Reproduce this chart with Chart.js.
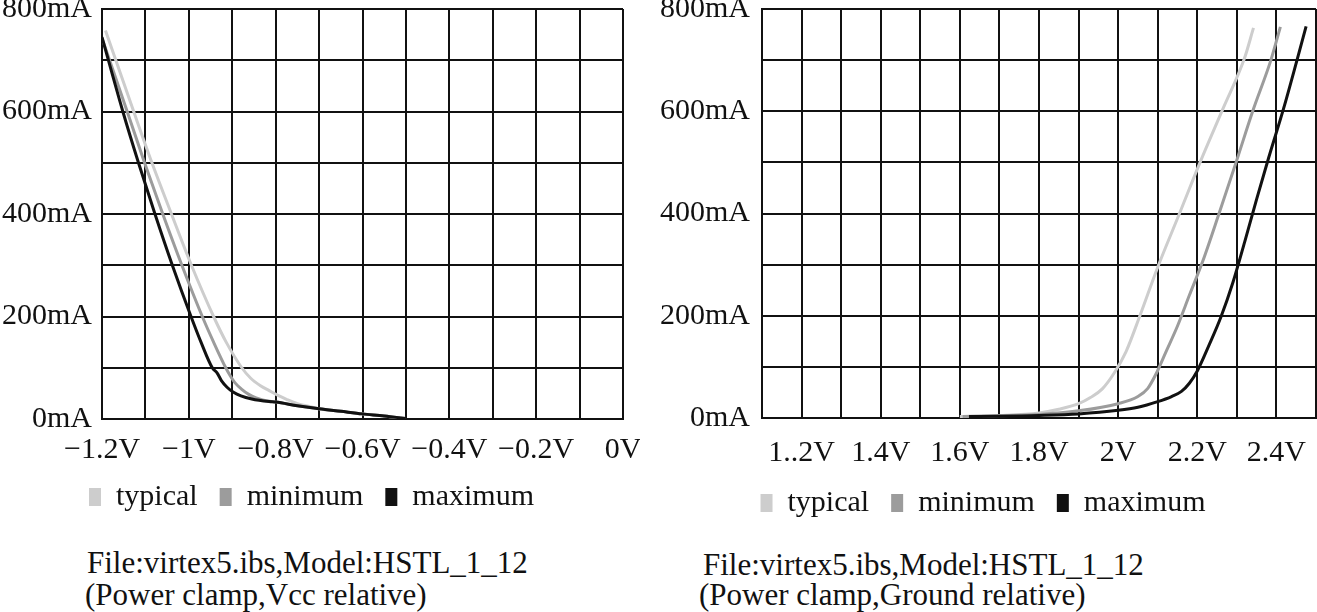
<!DOCTYPE html>
<html>
<head>
<meta charset="utf-8">
<script src="https://cdn.jsdelivr.net/npm/chart.js@4.4.1/dist/chart.umd.min.js"></script>
<style>
html, body { margin: 0; padding: 0; background: #ffffff; }
body { width: 1317px; height: 612px; position: relative; overflow: hidden; font-family: "Liberation Serif", "Times New Roman", serif; }
canvas { position: absolute; top: 0; }
#c1 { left: 0; }
#c2 { left: 650px; }
.cap { position: absolute; font: 31px/32px "Liberation Serif", "Times New Roman", serif; color: #111; white-space: pre; }
</style>
</head>
<body>
<canvas id="c1" width="640" height="522"></canvas>
<canvas id="c2" width="667" height="528"></canvas>
<div class="cap" id="cap1a" style="left:87px; top:547px;"></div>
<div class="cap" id="cap1b" style="left:85px; top:579px;"></div>
<div class="cap" id="cap2a" style="left:703px; top:549px;"></div>
<div class="cap" id="cap2b" style="left:699px; top:579px;"></div>
<script>
// ---------- tick labels ----------
const vccVoltTicks  = [-1.2, -1.0, -0.8, -0.6, -0.4, -0.2, 0];
const vccVoltLabels = ['\u22121.2V', '\u22121V', '\u22120.8V', '\u22120.6V', '\u22120.4V', '\u22120.2V', '0V'];
const gndVoltTicks  = [1.2, 1.4, 1.6, 1.8, 2.0, 2.2, 2.4];
const gndVoltLabels = ['1..2V', '1.4V', '1.6V', '1.8V', '2V', '2.2V', '2.4V'];
const currentTicks  = [0, 200, 400, 600, 800];
const currentLabels = ['0mA', '200mA', '400mA', '600mA', '800mA'];

const seriesNames = ['typical', 'minimum', 'maximum'];
const captionLeft  = ['File:virtex5.ibs,Model:HSTL_1_12', '(Power clamp,Vcc relative)'];
const captionRight = ['File:virtex5.ibs,Model:HSTL_1_12', '(Power clamp,Ground relative)'];

// ---------- Power clamp, Vcc relative (V, mA) ----------
const vccTypicalV = [-1.192, -1.127, -1.085, -1.04, -0.994, -0.943, -0.914, -0.878, -0.858, -0.835, -0.814, -0.792, -0.774, -0.75, -0.72, -0.7, -0.65, -0.6, -0.55, -0.5];
const vccTypicalI = [758, 600, 500, 400, 300, 200, 150, 100, 80, 65, 55, 45, 38, 30, 24, 20, 15, 10, 6, 1];
const vccMinimumV = [-1.198, -1.142, -1.102, -1.06, -1.016, -0.969, -0.943, -0.915, -0.905, -0.893, -0.878, -0.862, -0.845, -0.83, -0.8, -0.75, -0.7, -0.65, -0.6, -0.55, -0.5];
const vccMinimumI = [738, 600, 500, 400, 300, 200, 150, 100, 85, 70, 58, 48, 41, 37, 33, 26, 20, 15, 10, 6, 1];
const vccMaximumV = [-1.2, -1.152, -1.116, -1.078, -1.038, -0.995, -0.972, -0.946, -0.935, -0.925, -0.912, -0.897, -0.88, -0.855, -0.815, -0.8, -0.75, -0.7, -0.65, -0.6, -0.55, -0.5];
const vccMaximumI = [745, 600, 500, 400, 300, 200, 150, 100, 90, 75, 62, 52, 45, 39, 34, 33, 26, 20, 15, 10, 6, 1];

// ---------- Power clamp, Ground relative (V, mA) ----------
const gndTypicalV = [1.6, 1.7, 1.8, 1.85, 1.9, 1.93, 1.96, 1.99, 2.02, 2.055, 2.1, 2.154, 2.207, 2.265, 2.319, 2.342];
const gndTypicalI = [3, 5, 10, 17, 28, 40, 57, 88, 130, 200, 295, 398, 500, 605, 703, 763];
const gndMinimumV = [1.607, 1.7, 1.8, 1.9, 2.0, 2.05, 2.075, 2.095, 2.12, 2.15, 2.18, 2.213, 2.255, 2.298, 2.34, 2.386, 2.41];
const gndMinimumI = [3, 4.5, 7, 14, 28, 42, 58, 85, 128, 180, 240, 305, 400, 500, 600, 700, 765];
const gndMaximumV = [1.623, 1.7, 1.8, 1.9, 2.0, 2.05, 2.1, 2.135, 2.16, 2.18, 2.2, 2.23, 2.26, 2.29, 2.32, 2.35, 2.38, 2.418, 2.452, 2.475];
const gndMaximumI = [3, 3.5, 5, 8, 15, 21, 32, 42, 52, 68, 92, 143, 198, 265, 345, 428, 508, 605, 700, 766];

// ---------- styles ----------
const seriesColors = { typical: '#cdcdcd', minimum: '#9c9c9c', maximum: '#111111' };
const FONT = '"Liberation Serif", "Times New Roman", serif';
const INK = '#111111';

function zip(xs, ys) { return xs.map((x, i) => ({ x: x, y: ys[i] })); }
function labelFor(v, ticks, labels) {
  for (let i = 0; i < ticks.length; i++) if (Math.abs(v - ticks[i]) < 1e-6) return labels[i];
  return '';
}

function makePanel(id, c) {
  const series = {
    typical: zip(c.typV, c.typI),
    minimum: zip(c.minV, c.minI),
    maximum: zip(c.maxV, c.maxI)
  };
  // dataset 0 is painted last (on top): maximum on top; legend reversed to typical, minimum, maximum
  const order = seriesNames.slice().reverse();
  const datasets = order.map(name => ({
    label: name,
    data: series[name],
    borderColor: seriesColors[name],
    backgroundColor: seriesColors[name],
    borderWidth: 3,
    pointRadius: 0,
    fill: false,
    cubicInterpolationMode: 'monotone'
  }));
  return new Chart(document.getElementById(id), {
    type: 'line',
    data: { datasets: datasets },
    options: {
      responsive: false,
      animation: false,
      devicePixelRatio: 1,
      layout: { padding: { top: c.padTop, right: c.padRight, bottom: 0, left: 0 } },
      scales: {
        x: {
          type: 'linear', min: c.xMin, max: c.xMax,
          grid: { color: INK, lineWidth: 2, drawTicks: false },
          border: { color: INK, width: 2 },
          ticks: {
            stepSize: 0.1, autoSkip: false, maxRotation: 0, minRotation: 0,
            padding: c.xPad, color: INK, font: { family: FONT, size: 30 },
            callback: v => labelFor(v, c.xTicks, c.xLabels)
          },
          afterFit: s => { s.height = c.xHeight; s.paddingLeft = 0; s.paddingRight = 0; }
        },
        y: {
          type: 'linear', min: 0, max: 800,
          grid: { color: INK, lineWidth: 2, drawTicks: false },
          border: { color: INK, width: 2 },
          ticks: {
            stepSize: 100, padding: c.yPad, color: INK, font: { family: FONT, size: 30 },
            callback: v => labelFor(v, currentTicks, currentLabels)
          },
          afterFit: s => { s.width = c.yWidth; s.paddingTop = 0; s.paddingBottom = 0; }
        }
      },
      plugins: {
        legend: {
          position: 'bottom',
          reverse: true,
          labels: {
            boxWidth: 12, boxHeight: 18, padding: 22, color: INK,
            font: { family: FONT, size: 30 },
            generateLabels: chart => Chart.defaults.plugins.legend.labels.generateLabels(chart)
              .map(l => Object.assign(l, { lineWidth: 0 }))
          }
        },
        tooltip: { enabled: false }
      }
    }
  });
}

makePanel('c1', {
  typV: vccTypicalV, typI: vccTypicalI, minV: vccMinimumV, minI: vccMinimumI, maxV: vccMaximumV, maxI: vccMaximumI,
  xMin: -1.2, xMax: 0, xTicks: vccVoltTicks, xLabels: vccVoltLabels,
  padTop: 9, padRight: 17, xHeight: 41, xPad: 13, yWidth: 102, yPad: 10
});
makePanel('c2', {
  typV: gndTypicalV, typI: gndTypicalI, minV: gndMinimumV, minI: gndMinimumI, maxV: gndMaximumV, maxI: gndMaximumI,
  xMin: 1.1, xMax: 2.5, xTicks: gndVoltTicks, xLabels: gndVoltLabels,
  padTop: 9, padRight: 1, xHeight: 48, xPad: 17, yWidth: 112, yPad: 12
});

document.getElementById('cap1a').textContent = captionLeft[0];
document.getElementById('cap1b').textContent = captionLeft[1];
document.getElementById('cap2a').textContent = captionRight[0];
document.getElementById('cap2b').textContent = captionRight[1];
</script>
</body>
</html>
